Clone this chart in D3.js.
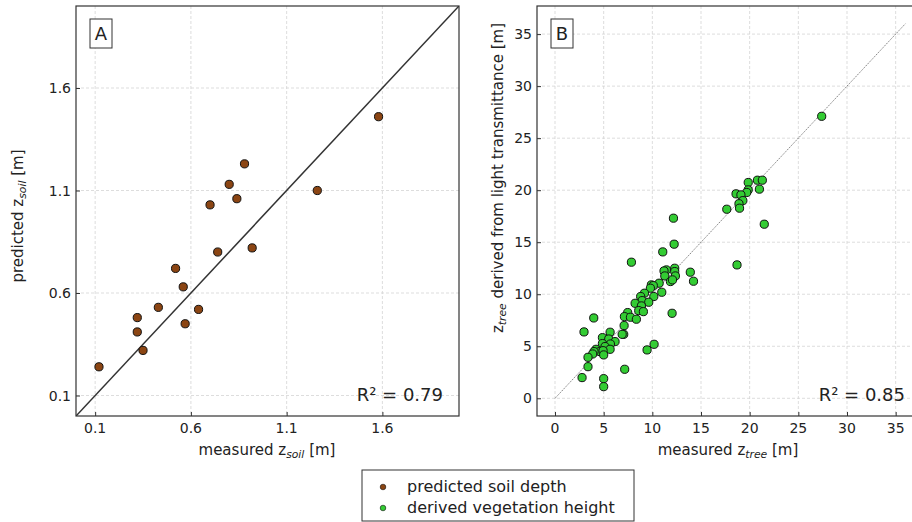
<!DOCTYPE html>
<html>
<head>
<meta charset="utf-8">
<script src="https://cdn.jsdelivr.net/npm/d3@7"></script>
<style>
  body { margin: 0; background: #fff; }
  svg text { font-family: "DejaVu Sans", sans-serif; fill: #222; }
</style>
</head>
<body>
<svg id="chart" width="912" height="522"></svg>
<script>
// Panel A: soil depth (measured vs predicted) [m]
const soilMeasured  = [0.12, 0.32, 0.32, 0.35, 0.43, 0.52, 0.56, 0.57, 0.64, 0.70, 0.74, 0.80, 0.84, 0.88, 0.92, 1.26, 1.58];
const soilPredicted = [0.24, 0.48, 0.41, 0.32, 0.53, 0.72, 0.63, 0.45, 0.52, 1.03, 0.80, 1.13, 1.06, 1.23, 0.82, 1.10, 1.46];

// Panel B: tree height (measured vs derived from light transmittance) [m]
const treeMeasured = [
  27.4, 19.85, 20.8, 21.3, 21.0, 19.85, 19.7, 18.6, 19.1, 19.3, 18.9, 18.96, 17.65, 21.5, 18.7,
  12.17, 12.24, 11.07, 7.85, 12.3, 11.45, 11.2, 12.3, 13.9, 11.28, 12.37, 11.86, 12.07, 14.23, 10.7,
  9.9, 10.1, 9.8, 10.97, 9.19, 8.8, 10.15, 8.95, 8.23, 9.63, 8.88, 8.6, 9.08, 12.03, 7.47,
  7.13, 7.75, 8.36, 3.98, 7.1, 7.06, 6.9, 2.98, 5.66, 4.87, 5.52, 6.17, 5.69, 4.87, 5.14,
  5.66, 4.22, 4.59, 4.94, 4.01, 3.87, 5.0, 3.39, 3.39, 2.78, 7.16, 9.46, 10.18, 5.0, 5.0
];
const treeDerived = [
  27.1, 20.74, 20.96, 20.96, 20.1, 20.03, 19.78, 19.65, 19.55, 19.0, 18.7, 18.27, 18.17, 16.73, 12.82,
  17.31, 14.81, 14.07, 13.08, 12.5, 12.34, 12.24, 12.18, 12.12, 11.76, 11.76, 11.22, 11.38, 11.25, 11.06,
  10.9, 10.83, 10.58, 10.19, 10.1, 9.78, 9.78, 9.39, 9.13, 9.23, 8.88, 8.43, 8.33, 8.17, 8.24,
  7.85, 7.79, 7.6, 7.72, 6.99, 6.15, 6.15, 6.38, 6.35, 5.83, 5.7, 5.45, 5.22, 5.26, 4.97,
  4.71, 4.71, 4.49, 4.58, 4.49, 4.26, 4.17, 3.94, 3.04, 1.99, 2.79, 4.65, 5.19, 1.89, 1.12
];

const ticksA = [0.1, 0.6, 1.1, 1.6];
const ticksB = [0, 5, 10, 15, 20, 25, 30, 35];

const legendLabels = ["predicted soil depth", "derived vegetation height"];
const colors = ["#8b4513", "#33cc33"];

const svg = d3.select("#chart");
svg.append("rect").attr("width", 912).attr("height", 522).attr("fill", "#fff");

// write "z" with an italic subscript
function subLabel(text, before, sub, after) {
  text.append("tspan").text(before);
  text.append("tspan").attr("baseline-shift", "-25%").attr("font-size", "0.72em")
    .attr("font-style", "italic").text(sub);
  text.append("tspan").text(after);
}

function drawPanel(p) {
  const x = d3.scaleLinear().domain(p.xDomain).range([p.left, p.right]);
  const y = d3.scaleLinear().domain(p.yDomain).range([p.bottom, p.top]);
  const g = svg.append("g");

  g.append("defs").append("clipPath").attr("id", "clip" + p.name)
    .append("rect").attr("x", p.left).attr("y", p.top)
    .attr("width", p.right - p.left).attr("height", p.bottom - p.top);

  // grid
  const grid = g.append("g").attr("stroke", "#d4d4d4").attr("stroke-dasharray", "3,2").attr("stroke-width", 0.8);
  grid.selectAll(".gx").data(p.ticks).join("line")
    .attr("x1", d => x(d)).attr("x2", d => x(d)).attr("y1", p.top).attr("y2", p.bottom);
  grid.selectAll(".gy").data(p.ticks).join("line")
    .attr("y1", d => y(d)).attr("y2", d => y(d)).attr("x1", p.left).attr("x2", p.right);

  // axes with inward ticks
  g.append("g").attr("transform", `translate(0,${p.bottom})`)
    .call(d3.axisTop(x).tickValues(p.ticks).tickSize(4).tickFormat(""))
    .call(a => a.select(".domain").remove())
    .call(a => a.selectAll("line").attr("stroke", "#333"));
  g.append("g").attr("transform", `translate(${p.left},0)`)
    .call(d3.axisRight(y).tickValues(p.ticks).tickSize(4).tickFormat(""))
    .call(a => a.select(".domain").remove())
    .call(a => a.selectAll("line").attr("stroke", "#333"));

  g.selectAll(".xl").data(p.ticks).join("text")
    .attr("x", d => x(d)).attr("y", p.bottom + 17)
    .attr("text-anchor", "middle").attr("font-size", 14).text(p.fmt);
  g.selectAll(".yl").data(p.ticks).join("text")
    .attr("x", p.left - 5).attr("y", d => y(d) + 5)
    .attr("text-anchor", "end").attr("font-size", 14).text(p.fmt);

  // 1:1 line
  const lim = p.lineDomain;
  g.append("line").attr("clip-path", `url(#clip${p.name})`)
    .attr("x1", x(lim[0])).attr("y1", y(lim[0])).attr("x2", x(lim[1])).attr("y2", y(lim[1]))
    .attr("stroke", p.lineColor).attr("stroke-width", p.lineWidth)
    .attr("stroke-dasharray", p.lineDash);

  // points
  g.append("g").selectAll("circle").data(p.xs).join("circle")
    .attr("cx", d => x(d)).attr("cy", (d, i) => y(p.ys[i])).attr("r", 4.1)
    .attr("fill", p.color).attr("stroke", "#111").attr("stroke-width", 1);

  // frame
  g.append("rect").attr("x", p.left).attr("y", p.top)
    .attr("width", p.right - p.left).attr("height", p.bottom - p.top)
    .attr("fill", "none").attr("stroke", "#333").attr("stroke-width", 1.2);

  // panel letter
  g.append("rect").attr("x", p.left + 14).attr("y", 19).attr("width", 22).attr("height", 29)
    .attr("fill", "#fff").attr("stroke", "#333").attr("stroke-width", 1);
  g.append("text").attr("x", p.left + 25).attr("y", 40).attr("text-anchor", "middle")
    .attr("font-size", 18).text(p.name);

  // R²
  g.append("text").attr("x", p.r2x).attr("y", 401).attr("text-anchor", "end")
    .attr("font-size", 18).text(p.r2);

  // axis labels
  const xl = g.append("text").attr("x", p.xLabelX).attr("y", 455)
    .attr("text-anchor", "middle").attr("font-size", 15);
  subLabel(xl, "measured z", p.sub, " [m]");
  const yl = g.append("text")
    .attr("transform", `translate(${p.yLabelX},${p.yLabelY}) rotate(-90)`)
    .attr("text-anchor", "middle").attr("font-size", 15);
  subLabel(yl, p.yPre, p.sub, p.yPost);
}

drawPanel({
  name: "A", left: 76, right: 459, top: 6, bottom: 416,
  xDomain: [0, 2], yDomain: [0, 2], lineDomain: [0, 2],
  ticks: ticksA, fmt: d3.format(".1f"),
  xs: soilMeasured, ys: soilPredicted, color: colors[0],
  lineColor: "#333", lineWidth: 1.5, lineDash: null,
  r2: "R² = 0.79", r2x: 443, sub: "soil",
  xLabelX: 267, yLabelX: 23, yLabelY: 216, yPre: "predicted z", yPost: " [m]"
});

drawPanel({
  name: "B", left: 537, right: 920, top: 6, bottom: 416,
  xDomain: [-1.85, 37.5], yDomain: [-1.7, 37.7], lineDomain: [0, 36],
  ticks: ticksB, fmt: d3.format("d"),
  xs: treeMeasured, ys: treeDerived, color: colors[1],
  lineColor: "#666", lineWidth: 0.8, lineDash: "1.5,1",
  r2: "R² = 0.85", r2x: 905, sub: "tree",
  xLabelX: 728, yLabelX: 503, yLabelY: 178, yPre: "z", yPost: " derived from light transmittance [m]"
});

// legend
const lg = svg.append("g");
lg.append("rect").attr("x", 362).attr("y", 470).attr("width", 272).attr("height", 51)
  .attr("fill", "#fff").attr("stroke", "#333").attr("stroke-width", 1);
lg.selectAll("circle").data(legendLabels).join("circle")
  .attr("cx", 383).attr("cy", (d, i) => 487 + i * 21).attr("r", 2.8)
  .attr("fill", (d, i) => colors[i]).attr("stroke", "#111").attr("stroke-width", 0.6);
lg.selectAll("text").data(legendLabels).join("text")
  .attr("x", 407).attr("y", (d, i) => 492 + i * 21)
  .attr("font-size", 16).text(d => d);
</script>
</body>
</html>
